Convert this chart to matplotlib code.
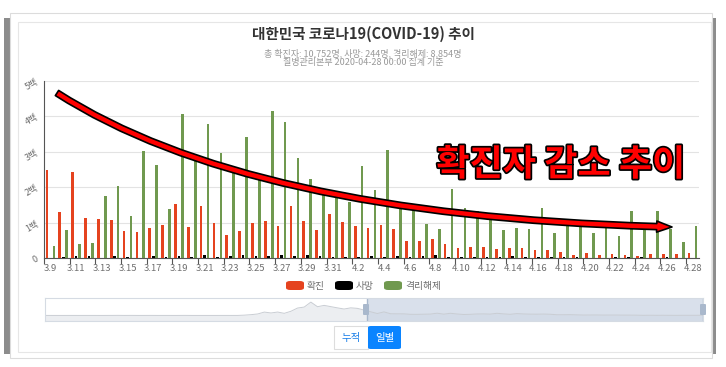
import matplotlib.pyplot as plt
import matplotlib.patheffects as pe
from matplotlib.patches import Rectangle, FancyBboxPatch, FancyArrowPatch
from matplotlib.path import Path
import numpy as np

plt.rcParams['font.family'] = ['Noto Sans CJK KR', 'DejaVu Sans']

# daily numbers, 3.9 ~ 4.28
dates = [f'3.{d}' for d in range(9, 32)] + [f'4.{d}' for d in range(1, 29)]
confirmed = [248, 131, 242, 114, 110, 107, 76, 74, 84, 93, 152, 87, 147, 98, 64, 76,
             100, 104, 91, 146, 105, 78, 125,
             101, 89, 86, 94, 81, 47, 47, 53, 39, 27, 30, 32, 25, 27, 27, 22, 22, 18,
             8, 13, 9, 11, 8, 6, 10, 10, 10, 14]
deaths = [0, 3, 6, 6, 0, 5, 3, 0, 6, 3, 7, 3, 8, 2, 7, 9, 5, 5, 8, 5, 8, 6, 4,
          3, 4, 5, 3, 6, 3, 6, 8, 4, 4, 3, 3, 3, 5, 3, 4, 2, 2, 2, 1, 1, 2, 2, 2,
          0, 2, 1, 1]
released = [34, 80, 40, 43, 176, 203, 119, 302, 264, 138, 408, 286, 379, 297, 257,
            341, 223, 415, 384, 283, 222, 194, 170,
            158, 261, 192, 304, 138, 135, 95, 81, 196, 142, 132, 121, 78, 86, 81,
            140, 72, 107, 102, 72, 92, 63, 133, 88, 133, 81, 46, 90]
# confirmed per day before 3.9 (1.20 ~ 3.8), only used in the zoom slider
confirmed_before = [1, 0, 0, 0, 1, 0, 1, 1, 0, 0, 2, 5, 1, 3, 0, 1, 2, 0, 1, 0,
                    0, 3, 0, 0, 0, 0, 0, 1, 0,
                    1, 20, 53, 100, 229, 169, 231, 144, 284, 505, 571, 909, 595,
                    686, 600, 516, 438, 518, 483, 367]
yticks = [0, 100, 200, 300, 400, 500]
ylabels = ['0', '1백', '2백', '3백', '4백', '5백']

RED = '#e5431f'
GREEN = '#70994f'
GRAY_TXT = '#6e6e6e'

W, H = 726, 367


def fx(px):
    return px / W


def fy(py):
    return 1 - py / H


fig = plt.figure(figsize=(W / 100, H / 100), dpi=100)

# card frame with side shadows (behind everything)
fig.patches.append(Rectangle((fx(4), fy(354)), fx(716) - fx(4), fy(18) - fy(354),
                             transform=fig.transFigure, facecolor='#8c8c8c',
                             edgecolor='none', zorder=-3))
fig.patches.append(Rectangle((fx(10), fy(358)), fx(712) - fx(10), fy(13) - fy(358),
                             transform=fig.transFigure, facecolor='white',
                             edgecolor='#dcdcdc', lw=0.8, zorder=-2))
fig.patches.append(Rectangle((fx(18), fy(352)), fx(711) - fx(18), fy(22) - fy(352),
                             transform=fig.transFigure, facecolor='white',
                             edgecolor='#e6e6e6', lw=0.8, zorder=-1))

fig.text(0.5, fy(34), '대한민국 코로나19(COVID-19) 추이', ha='center', va='center',
         fontsize=10.5, fontweight='bold', color='#333333')
fig.text(0.5, fy(53), '총 확진자: 10,752명, 사망: 244명, 격리해제: 8,854명',
         ha='center', va='center', fontsize=6.5, color='#999999')
fig.text(0.5, fy(62), '질병관리본부 2020-04-28 00:00 집계 기준',
         ha='center', va='center', fontsize=6.5, color='#999999')

ax = fig.add_axes([fx(44), fy(258), (699 - 44) / W, (258 - 81) / H])
ax.patch.set_alpha(0)
x = np.arange(len(dates))
bw = 0.21
ax.bar(x - 0.27, confirmed, bw, color=RED, zorder=3)
ax.bar(x, deaths, bw, color='black', zorder=3)
ax.bar(x + 0.27, released, bw, color=GREEN, zorder=3)

ax.set_xlim(-0.5, len(dates) - 0.5)
ax.set_ylim(0, 500)
ax.set_yticks(yticks)
ax.set_yticklabels(ylabels, rotation=30, color=GRAY_TXT, fontsize=6.5)
ax.tick_params(axis='y', length=0, pad=3)
ax.grid(axis='y', color='#e3e3e3', lw=0.8, zorder=0)
for s in ['top', 'right']:
    ax.spines[s].set_visible(False)
ax.spines['left'].set_color('#555555')
ax.spines['bottom'].set_color('#555555')

ax.set_xticks(np.arange(-0.5, len(dates), 2))
ax.set_xticklabels([])
ax.tick_params(axis='x', which='major', length=4, color='#555555')
ax.set_xticks(x[::2], minor=True)
ax.set_xticklabels(dates[::2], minor=True, fontsize=6.8, color=GRAY_TXT)
ax.tick_params(axis='x', which='minor', length=0, pad=4)

# legend
legend_items = [('확진', RED, 286), ('사망', 'black', 335), ('격리해제', GREEN, 384)]
for label, col, px in legend_items:
    fig.patches.append(FancyBboxPatch((fx(px), fy(290)), fx(18), fy(281) - fy(290),
                                      boxstyle='round,pad=0,rounding_size=0.006',
                                      transform=fig.transFigure, facecolor=col,
                                      edgecolor='none'))
    fig.text(fx(px + 21), fy(285.5), label, ha='left', va='center', fontsize=7,
             color=GRAY_TXT)

# data zoom slider
sl = fig.add_axes([fx(45), fy(321), (703 - 45) / W, 23 / H])
overview = confirmed_before + confirmed
ox = np.arange(len(overview))
bottom = -380
sl.fill_between(ox, overview, bottom, color='#eceef1', lw=0)
sl.plot(ox, overview, color='#c9cdd3', lw=0.7)
sl.set_xlim(0, len(overview) - 1)
sl.set_ylim(bottom, 1190)
sel0 = len(confirmed_before) - 0.5
sl.add_patch(Rectangle((sel0, bottom), len(overview) - 1 - sel0, 1190 - bottom,
                       facecolor='#c9d3e3', alpha=0.7, edgecolor='none'))
sl.axvline(sel0, color='#a9b8cc', lw=1)
sl.axvline(len(overview) - 1, color='#a9b8cc', lw=1)
sl.set_xticks([])
sl.set_yticks([])
for s in sl.spines.values():
    s.set_color('#d5dbe3')
    s.set_linewidth(0.8)
for hx in [366, 703]:
    fig.patches.append(FancyBboxPatch((fx(hx - 3), fy(315)), fx(6), fy(304) - fy(315),
                                      boxstyle='round,pad=0,rounding_size=0.002',
                                      transform=fig.transFigure, facecolor='#a9b8cc',
                                      edgecolor='none', zorder=5))

# buttons
fig.patches.append(Rectangle((fx(334), fy(349)), fx(34), fy(326) - fy(349),
                             transform=fig.transFigure, facecolor='white',
                             edgecolor='#dddddd', lw=0.8))
fig.patches.append(FancyBboxPatch((fx(368), fy(349)), fx(33), fy(326) - fy(349),
                                  boxstyle='round,pad=0,rounding_size=0.004',
                                  transform=fig.transFigure, facecolor='#0a84ff',
                                  edgecolor='none'))
fig.text(fx(351), fy(338), '누적', ha='center', va='center', fontsize=7.5, color='#1a7fe8')
fig.text(fx(384.5), fy(338), '일별', ha='center', va='center', fontsize=7.5, color='white')

# annotation: decreasing trend arrow + text
verts = [(fx(57), fy(93)), (fx(250), fy(217)), (fx(672), fy(227))]
arr = FancyArrowPatch(path=Path(verts, [Path.MOVETO, Path.CURVE3, Path.CURVE3]),
                      arrowstyle='simple,head_length=11,head_width=8,tail_width=4.4',
                      transform=fig.transFigure, facecolor='#ff0000',
                      edgecolor='black', lw=1.2, zorder=10)
fig.patches.append(arr)
fig.text(fx(561), fy(165), '확진자 감소 추이', ha='center', va='center', fontsize=26,
         fontweight='bold', color='#ff0000', zorder=11,
         path_effects=[pe.withStroke(linewidth=2.5, foreground='black')])

fig.savefig('out.png', dpi=100)
